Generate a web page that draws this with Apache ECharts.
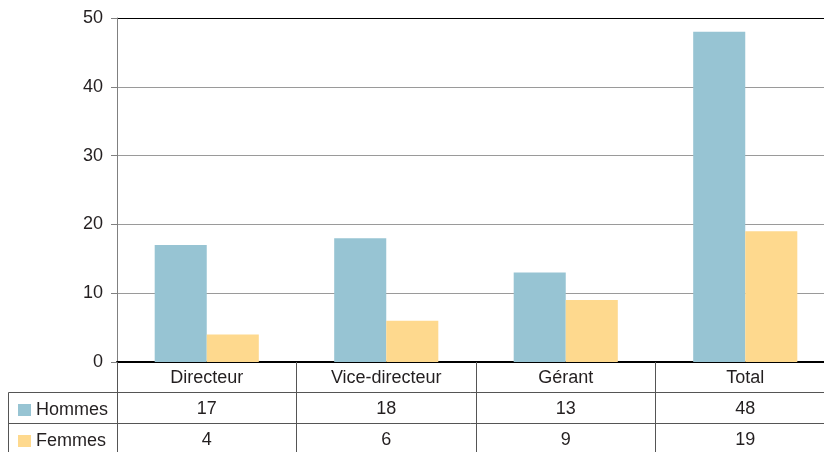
<!DOCTYPE html>
<html>
<head>
<meta charset="utf-8">
<script src="https://cdn.jsdelivr.net/npm/echarts@6/dist/echarts.min.js"></script>
<style>
    html, body { margin: 0; padding: 0; background: #fff; }
    #chart { width: 824px; height: 452px; }
</style>
</head>
<body>
<div id="chart"></div>
<script>
const categories = ['Directeur', 'Vice-directeur', 'Gérant', 'Total'];
const hommes = [17, 18, 13, 48];
const femmes = [4, 6, 9, 19];
const yTicks = [0, 10, 20, 30, 40, 50];

const font = "'Liberation Sans', Arial, sans-serif";
const textColor = '#231f20';
const tableLine = '#555';
const fs = 18;

const chart = echarts.init(document.getElementById('chart'));

// un axe x par ligne du tableau
const tableAxis = (data, offset, extra) => Object.assign({
    type: 'category',
    data: data,
    position: 'bottom',
    offset: offset,
    axisLine: { show: true, lineStyle: { color: tableLine, width: 1 } },
    axisTick: { show: false },
    axisLabel: { fontSize: fs, color: textColor, fontFamily: font, margin: 8 },
    splitLine: { show: false }
}, extra || {});

// une légende par ligne du tableau
const legendRow = (name, top) => ({
    left: 13,
    top: top,
    itemWidth: 13,
    itemHeight: 12,
    icon: 'rect',
    textStyle: { fontSize: fs, color: textColor, fontFamily: font, padding: [0, 0, 0, 0] },
    data: [name]
});

chart.setOption({
    animation: false,
    textStyle: { fontFamily: font },
    legend: [legendRow('Hommes', 396), legendRow('Femmes', 427)],
    grid: { left: 117, width: 718, top: 18, bottom: 90, outerBoundsMode: 'none' },
    xAxis: [
        tableAxis(categories, 0, {
            axisLine: { show: true, lineStyle: { color: '#000', width: 2 } },
            axisTick: { show: true, length: 92, lineStyle: { color: tableLine, width: 1 } },
            axisLabel: { fontSize: fs, color: textColor, fontFamily: font, margin: 7 }
        }),
        tableAxis(hommes.map(String), 30),
        tableAxis(femmes.map(String), 61)
    ],
    yAxis: {
        type: 'value',
        min: yTicks[0],
        max: yTicks[yTicks.length - 1],
        interval: 10,
        axisLine: { show: true, lineStyle: { color: '#808080' } },
        axisTick: { show: true, length: 6, lineStyle: { color: '#808080' } },
        axisLabel: { fontSize: fs, color: textColor, fontFamily: font, margin: 14 },
        splitLine: {
            show: true,
            lineStyle: { color: ['#9a9a9a', '#9a9a9a', '#9a9a9a', '#9a9a9a', '#9a9a9a', '#000'], width: 1 }
        }
    },
    series: [
        {
            name: 'Hommes',
            type: 'bar',
            data: hommes,
            color: '#97c4d3',
            barWidth: '29%',
            barGap: '0%'
        },
        {
            name: 'Femmes',
            type: 'bar',
            data: femmes,
            color: '#fed98e',
            barWidth: '29%',
            barGap: '0%'
        }
    ],
    // partie gauche du tableau (colonne des légendes)
    graphic: [
        { type: 'line', shape: { x1: 8.5, y1: 392.5, x2: 117, y2: 392.5 }, style: { stroke: tableLine, lineWidth: 1 } },
        { type: 'line', shape: { x1: 8.5, y1: 423.5, x2: 117, y2: 423.5 }, style: { stroke: tableLine, lineWidth: 1 } },
        { type: 'line', shape: { x1: 8.5, y1: 392.5, x2: 8.5, y2: 452 }, style: { stroke: tableLine, lineWidth: 1 } }
    ]
});
</script>
</body>
</html>
